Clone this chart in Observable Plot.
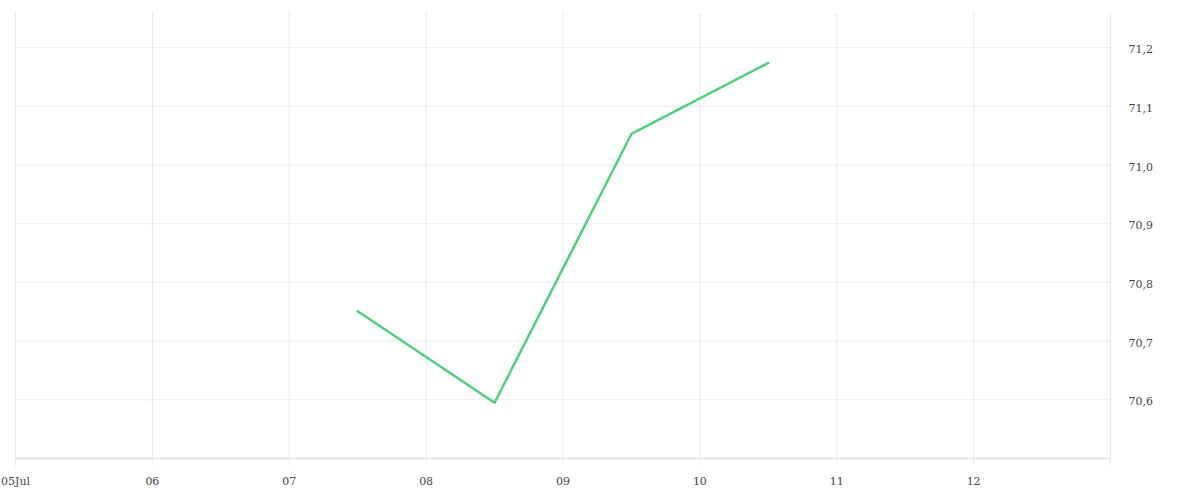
<!DOCTYPE html>
<html>
<head>
<meta charset="utf-8">
<script src="https://cdn.jsdelivr.net/npm/d3@7"></script>
<script src="https://cdn.jsdelivr.net/npm/@observablehq/plot@0.6"></script>
<style>
  html, body { margin: 0; padding: 0; background: #fff; }
  #chart svg { display: block; }
</style>
</head>
<body>
<div id="chart"></div>
<script>
const dates = ["2023-07-07T12:00Z", "2023-07-08T12:00Z", "2023-07-09T12:00Z", "2023-07-10T12:00Z"];
const values = [70.751, 70.595, 71.053, 71.174];
const xDomain = ["2023-07-05T00:00Z", "2023-07-13T00:00Z"];
const dayTicks = ["2023-07-05", "2023-07-06", "2023-07-07", "2023-07-08", "2023-07-09", "2023-07-10", "2023-07-11", "2023-07-12"];
const gridDays = [...dayTicks, "2023-07-13"];
const yTicks = [70.6, 70.7, 70.8, 70.9, 71.0, 71.1, 71.2];
const yDomain = [70.5, 71.26];

const data = dates.map((d, i) => ({date: new Date(d), value: values[i]}));
const ticksX = dayTicks.map(d => new Date(d + "T00:00Z"));
const gridX = gridDays.map(d => new Date(d + "T00:00Z"));

const chart = Plot.plot({
  width: 1200,
  height: 500,
  marginTop: 12,
  marginBottom: 42,
  marginLeft: 15,
  marginRight: 90,
  style: {fontFamily: "'DejaVu Serif', serif", fontSize: "11px", color: "#444", background: "#fff"},
  x: {type: "utc", domain: xDomain.map(d => new Date(d))},
  y: {domain: yDomain},
  marks: [
    Plot.ruleY(yTicks, {y: d => d, stroke: "#ebebeb", strokeWidth: 1}),
    Plot.ruleX(gridX, {x: d => d, stroke: "#ebebeb", strokeWidth: 1, insetBottom: -8}),
    Plot.ruleY([yDomain[0]], {stroke: "#e6e6e6", strokeWidth: 2}),
    Plot.axisX(ticksX, {
      tickSize: 0,
      tickPadding: 19,
      tickFormat: (d, i) => i === 0 ? "05Jul" : d3.utcFormat("%d")(d),
      fill: "#444"
    }),
    Plot.axisY(yTicks, {
      anchor: "right",
      tickSize: 0,
      tickPadding: 18,
      textAnchor: "start",
      dy: 2,
      tickFormat: d => d.toFixed(1).replace(".", ","),
      fill: "#444",
      label: null
    }),
    Plot.line(data, {x: "date", y: "value", stroke: "#4cd17b", strokeWidth: 2.5})
  ]
});
document.getElementById("chart").append(chart);
</script>
</body>
</html>
